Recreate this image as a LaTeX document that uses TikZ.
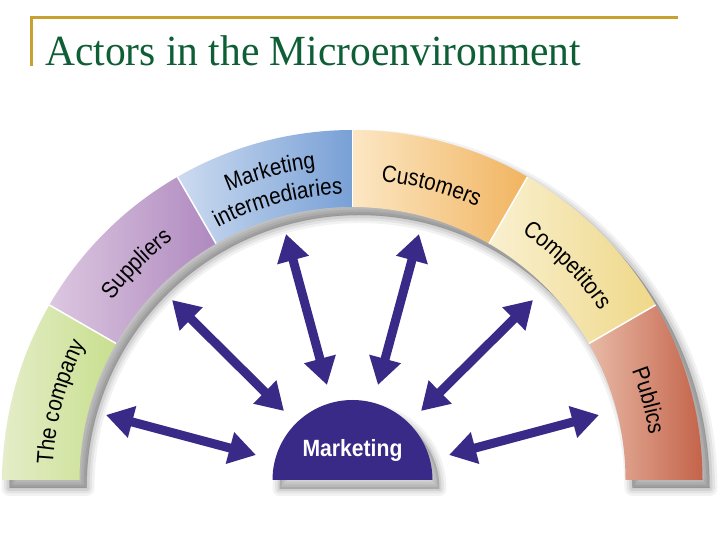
\documentclass[tikz,border=0pt]{standalone}
\usepackage{fontspec}
\setmainfont{Liberation Serif}
\setsansfont{Liberation Sans}
\newfontfamily\labfam[FakeStretch=0.88]{Liberation Sans}
\newfontfamily\mktfam[FakeStretch=0.9]{Liberation Sans}
\newfontfamily\titlefam[FakeStretch=0.965]{Liberation Serif}
\usetikzlibrary{arrows.meta,decorations.text}
\definecolor{gold}{HTML}{C9A032}
\definecolor{titlegreen}{HTML}{0E5E36}
\definecolor{mktblue}{HTML}{3A2A88}
\definecolor{compL}{HTML}{E4EDC8}
\definecolor{compR}{HTML}{C8DF8E}
\definecolor{supL}{HTML}{DCC7E0}
\definecolor{supR}{HTML}{AF89BF}
\definecolor{intL}{HTML}{CCDBF0}
\definecolor{intR}{HTML}{78A0D6}
\definecolor{cusL}{HTML}{FCE7C4}
\definecolor{cusR}{HTML}{F1B460}
\definecolor{cpaL}{HTML}{F9F0D0}
\definecolor{cpaR}{HTML}{EFD888}
\definecolor{pubL}{HTML}{E8BAA6}
\definecolor{pubR}{HTML}{C4634A}
\newcommand\labfont{\labfam\fontsize{23.5}{27}\selectfont}
\begin{document}
\begin{tikzpicture}[x=1pt,y=1pt,
  arr/.style={draw=mktblue, line width=9pt,
    {Triangle[length=27pt,width=31pt]}-{Triangle[length=27pt,width=31pt]}},
  seplin/.style={white, line width=1.5pt},
  shadowlayer/.style={black, line join=round}]
\useasboundingbox (0,0) rectangle (720,540);
\fill[white] (0,0) rectangle (720,540);
% title
\draw[gold, line width=3pt] (31,474) -- (31,522) -- (678,522);
\node[anchor=base west, inner sep=0, font=\titlefam\fontsize{43}{50}\selectfont, text=titlegreen] (title) at (45,474) {Actors in the Microenvironment};
\coordinate (C) at (352.5,60);
\begin{scope}[shift={(C)}]
  % drop shadow of the arc
  \foreach \w/\o in {16/0.05,11/0.06,6/0.07,1/0.08} {
    \filldraw[shadowlayer, fill opacity=\o, draw opacity=\o, line width=\w pt, shift={(7,-8)}]
      (180:350) arc[start angle=180,end angle=0,radius=350] -- (0:273)
      arc[start angle=0,end angle=180,radius=273] -- cycle;
  }
  % segments
  \foreach \a/\b/\cl/\cr in {180/150/compL/compR, 150/120/supL/supR, 120/90/intL/intR,
      90/60/cusL/cusR, 60/30/cpaL/cpaR, 30/0/pubL/pubR} {
    \shade[left color=\cl, right color=\cr] (\a:350) arc[start angle=\a,end angle=\b,radius=350]
      -- (\b:273) arc[start angle=\b,end angle=\a,radius=273] -- cycle;
  }
  \foreach \a in {150,120,90,60,30} { \draw[seplin] (\a:273) -- (\a:350); }
  % labels
  \path[decorate, decoration={text along path, text align=center, text={|\labfont|The company}}]
    (180:300) arc[start angle=180,end angle=150,radius=300];
  \path[decorate, decoration={text along path, text align=center, text={|\labfont|Suppliers}}]
    (150:300) arc[start angle=150,end angle=120,radius=300];
  \path[decorate, decoration={text along path, text align=center, text={|\labfont|Marketing}}]
    (120:314) arc[start angle=120,end angle=90,radius=314];
  \path[decorate, decoration={text along path, text align=center, text={|\labfont|intermediaries}}]
    (120:286) arc[start angle=120,end angle=90,radius=286];
  \path[decorate, decoration={text along path, text align=center, text={|\labfont|Customers}}]
    (90:300) arc[start angle=90,end angle=60,radius=300];
  \path[decorate, decoration={text along path, text align=center, text={|\labfont|Competitors}}]
    (60:300) arc[start angle=60,end angle=30,radius=300];
  \path[decorate, decoration={text along path, text align=center, text={|\labfont|Publics}}]
    (30:300) arc[start angle=30,end angle=0,radius=300];
  % marketing half disc
  \foreach \w/\o in {14/0.05,9/0.06,4/0.08} {
    \filldraw[shadowlayer, fill opacity=\o, draw opacity=\o, line width=\w pt, shift={(7,-9)}]
      (180:80) arc[start angle=180,end angle=0,radius=80] -- cycle;
  }
  \fill[mktblue] (180:80) arc[start angle=180,end angle=0,radius=80] -- cycle;
\end{scope}
\node[font=\mktfam\bfseries\fontsize{23.5}{27}\selectfont, text=white, anchor=base, inner sep=0] (mkt) at (352.5,83) {Marketing};
% arrows
\coordinate (a1o) at (106,125);   \coordinate (a1i) at (256,85);
\coordinate (a2o) at (172,240);   \coordinate (a2i) at (284,129);
\coordinate (a3o) at (286,306);   \coordinate (a3i) at (327,155);
\coordinate (a4o) at (419,306);   \coordinate (a4i) at (378,155);
\coordinate (a5o) at (533,240);   \coordinate (a5i) at (421,129);
\coordinate (a6o) at (599,125);   \coordinate (a6i) at (449,85);
\draw[arr] (a1o) -- (a1i);
\draw[arr] (a2o) -- (a2i);
\draw[arr] (a3o) -- (a3i);
\draw[arr] (a4o) -- (a4i);
\draw[arr] (a5o) -- (a5i);
\draw[arr] (a6o) -- (a6i);
\end{tikzpicture}
\end{document}
